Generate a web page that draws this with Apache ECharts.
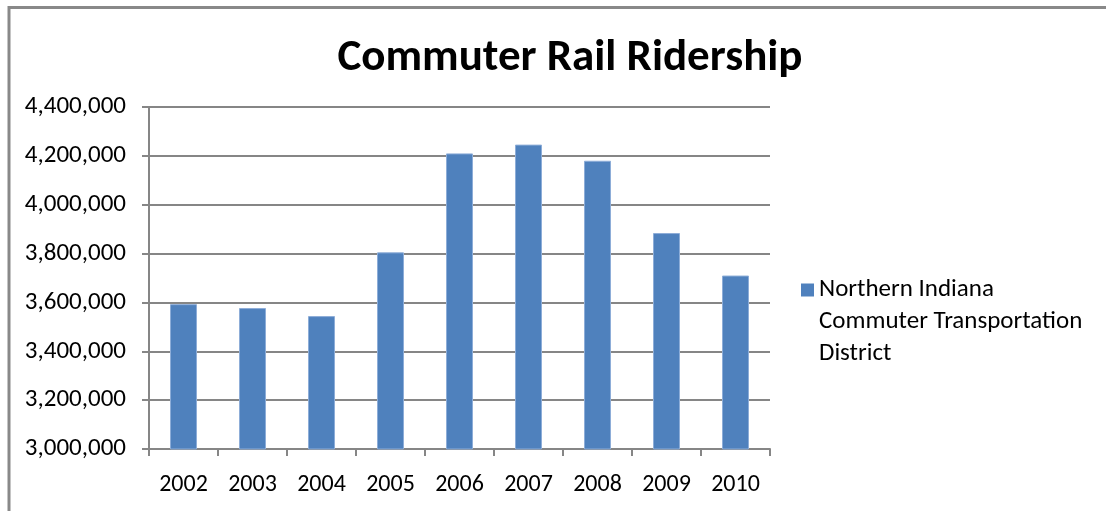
<!DOCTYPE html>
<html>
<head>
<meta charset="utf-8">
<script src="https://cdn.jsdelivr.net/npm/echarts@6/dist/echarts.min.js"></script>
<style>
  html, body { margin: 0; padding: 0; background: #fff; }
  #main { width: 1106px; height: 511px; }
</style>
</head>
<body>
<div id="main"></div>
<script>
const years = ["2002", "2003", "2004", "2005", "2006", "2007", "2008", "2009", "2010"];
const ridership = [3593000, 3577000, 3544000, 3805000, 4210000, 4246000, 4180000, 3884000, 3710000];
const seriesName = "Northern Indiana Commuter Transportation District";
const legendLines = ["Northern Indiana", "Commuter Transportation", "District"];

const font = "Carlito, Calibri, Lato, sans-serif";
const gray = "#868686";

const chart = echarts.init(document.getElementById("main"));

function commas(v) {
  return String(v).replace(/\B(?=(\d{3})+(?!\d))/g, ",");
}

chart.setOption({
  backgroundColor: "#fff",
  animation: false,
  title: {
    text: "Commuter Rail Ridership",
    left: 565,
    textAlign: "center",
    top: 31,
    textStyle: { fontFamily: font, fontWeight: "bold", fontSize: 45, color: "#000" }
  },
  graphic: [
    {
      type: "rect",
      shape: { x: 9, y: 7.5, width: 1200, height: 600 },
      style: { fill: null, stroke: "#898989", lineWidth: 3 },
      silent: true
    }
  ],
  legend: {
    orient: "vertical",
    left: 796,
    top: 205,
    itemWidth: 13,
    itemHeight: 13,
    icon: "rect",
    itemStyle: { borderWidth: 0 },
    data: [seriesName],
    formatter: function () {
      // two blank lines keep the swatch beside the first line
      return "\n\n" + legendLines.join("\n");
    },
    textStyle: { fontFamily: font, fontSize: 25, color: "#000", lineHeight: 32 }
  },
  grid: { left: 149, right: 336, top: 107, bottom: 62, containLabel: false },
  xAxis: {
    type: "category",
    data: years,
    boundaryGap: true,
    axisLine: { lineStyle: { color: gray, width: 2 } },
    axisTick: { show: true, length: 7, lineStyle: { color: gray, width: 2 } },
    axisLabel: { fontFamily: font, fontSize: 24, color: "#000", margin: 24 }
  },
  yAxis: {
    type: "value",
    min: 3000000,
    max: 4400000,
    interval: 200000,
    axisLine: { show: true, lineStyle: { color: gray, width: 2 } },
    axisTick: { show: true, length: 7, lineStyle: { color: gray, width: 2 } },
    splitLine: { lineStyle: { color: gray, width: 2 } },
    axisLabel: {
      fontFamily: font, fontSize: 25, color: "#000", margin: 23,
      formatter: commas
    }
  },
  series: [
    {
      name: seriesName,
      type: "bar",
      data: ridership,
      barWidth: 27,
      itemStyle: { color: "#4F81BD", borderColor: "#8DADD8", borderWidth: 1 }
    }
  ]
});
</script>
</body>
</html>
